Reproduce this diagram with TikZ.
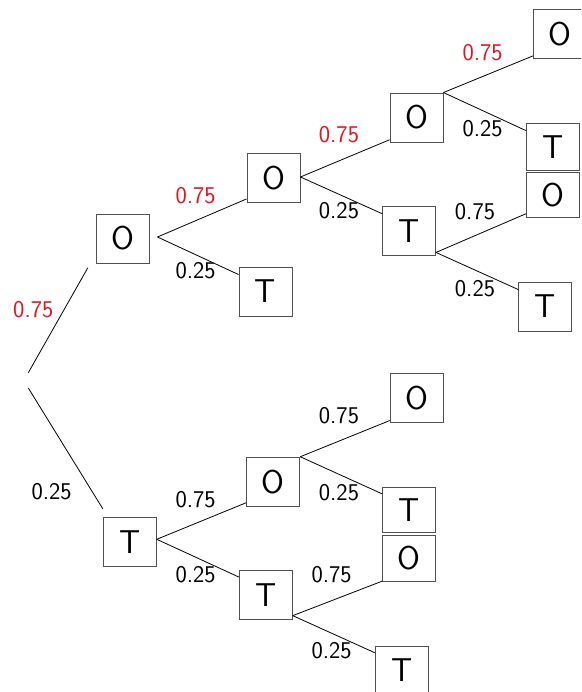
\documentclass[tikz,border=0pt]{standalone}
\usetikzlibrary{positioning}
\definecolor{boxline}{RGB}{80,80,80}
\definecolor{probred}{RGB}{220,24,32}
\tikzset{
  outcome/.style={draw=boxline, line width=0.9pt, minimum width=53pt, minimum height=49pt,
    inner sep=0pt, font=\sffamily\fontsize{33}{33}\selectfont},
  halfbox/.style={outcome, minimum height=46pt},
  prob/.style={inner sep=0pt, font=\sffamily\fontsize{24}{24}\selectfont},
  likely/.style={prob, text=probred},
  branch/.style={draw=black, line width=0.8pt}
}
\begin{document}
\begin{tikzpicture}[x=1pt, y=-1pt]
  \useasboundingbox (0,0) rectangle (581,692);
  \clip (0,0) rectangle (581,692);

  % outcome boxes
  \node[outcome] (A)   at (122.5,238.5) {O};
  \node[outcome] (B)   at (129.8,541.8) {T};
  \node[outcome] (uo2) at (273.5,178.3) {O};
  \node[outcome] (ut2) at (265.5,291.5) {T};
  \node[outcome] (uo3) at (416.5,117.5) {O};
  \node[outcome] (ut3) at (409.0,231.0) {T};
  \node[outcome] (uo4) at (559.8,34.3)  {O};
  \node[halfbox, minimum height=46.7pt] (utot) at (552.9,146.7) {T};
  \node[halfbox, minimum height=45pt]   (utoo) at (552.9,195.2) {O};
  \node[outcome] (ut4) at (545.2,306.5) {T};
  \node[outcome] (lo2) at (273.3,481.7) {O};
  \node[outcome] (lt2) at (265.8,595.0) {T};
  \node[outcome] (lo3) at (416.7,398.3) {O};
  \node[halfbox, minimum height=45.4pt] (ltot) at (409.1,510.0) {T};
  \node[halfbox, minimum height=45.6pt] (ltoo) at (409.1,558.5) {O};
  \node[outcome] (lt3) at (402.0,670.5) {T};

  % root of the tree
  \coordinate (r1) at (28.3,372.7);
  \coordinate (r2) at (28.3,388.0);

  % branches
  \draw[branch] (r1) -- ([shift={(-7.7,4.3)}]A.south west);
  \draw[branch] (r2) -- ([shift={(0,-8)}]B.north west);

  \draw[branch] ([shift={(8,-1.5)}]A.east) -- ([shift={(0,-4.3)}]uo2.south west);
  \draw[branch] ([shift={(8,-1.5)}]A.east) -- ([shift={(0,8)}]ut2.north west);

  \draw[branch] ([shift={(0,-1.3)}]uo2.east) -- ([shift={(0,-2.7)}]uo3.south west);
  \draw[branch] ([shift={(0,-1.3)}]uo2.east) -- ([shift={(0,7.6)}]ut3.north west);

  \draw[branch] (uo3.north east) -- ([shift={(0,-3.3)}]uo4.south west);
  \draw[branch] (uo3.north east) -- ([shift={(0,7.7)}]utot.north west);

  \draw[branch] ([shift={(0,-3.5)}]ut3.south east) -- ([shift={(0,-4.4)}]utoo.south west);
  \draw[branch] ([shift={(0,-3.5)}]ut3.south east) -- ([shift={(0,8)}]ut4.north west);

  \draw[branch] ([shift={(0,-2.5)}]B.east) -- ([shift={(0,-4)}]lo2.south west);
  \draw[branch] ([shift={(0,-2.5)}]B.east) -- ([shift={(0,7)}]lt2.north west);

  \draw[branch] (lo2.north east) -- ([shift={(0,-2.7)}]lo3.south west);
  \draw[branch] (lo2.north east) -- ([shift={(0,7)}]ltot.north west);

  \draw[branch] ([shift={(0,-4.3)}]lt2.south east) -- ([shift={(0,-0.6)}]ltoo.south west);
  \draw[branch] ([shift={(0,-4.3)}]lt2.south east) -- ([shift={(0,7.3)}]lt3.north west);

  % branch probabilities
  \node[likely] (p1)  at (33.3,310.0)  {0.75};
  \node[likely] (p2)  at (195.7,196.0) {0.75};
  \node[likely] (p3)  at (339.0,135.0) {0.75};
  \node[likely] (p4)  at (482.7,52.7)  {0.75};
  \node[prob]   (q1)  at (51.7,491.7)  {0.25};
  \node[prob]   (q2)  at (195.7,271.0) {0.25};
  \node[prob]   (q3)  at (339.0,211.0) {0.25};
  \node[prob]   (q4)  at (482.7,128.3) {0.25};
  \node[prob]   (q5)  at (475.0,211.7) {0.75};
  \node[prob]   (q6)  at (475.0,288.3) {0.25};
  \node[prob]   (q7)  at (195.7,500.0) {0.75};
  \node[prob]   (q8)  at (195.7,575.0) {0.25};
  \node[prob]   (q9)  at (339.0,416.0) {0.75};
  \node[prob]   (q10) at (339.0,492.7) {0.25};
  \node[prob]   (q11) at (331.7,575.0) {0.75};
  \node[prob]   (q12) at (331.7,650.7) {0.25};
\end{tikzpicture}
\end{document}
